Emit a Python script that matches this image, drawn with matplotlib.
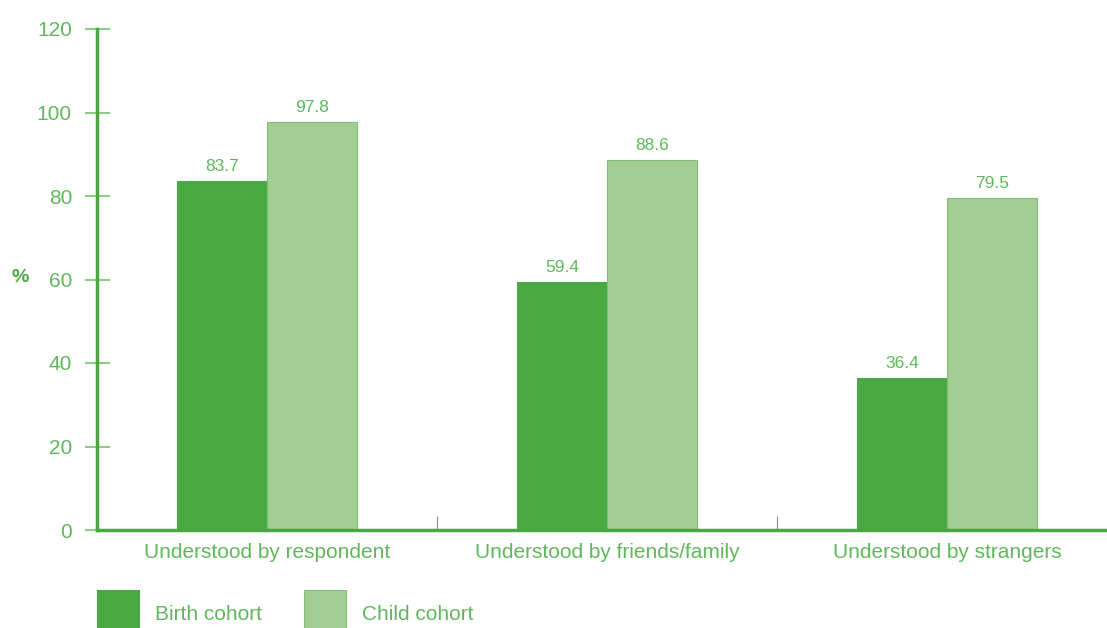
import matplotlib.pyplot as plt
from matplotlib.patches import Rectangle
import numpy as np

plt.rcParams["font.family"] = ["Liberation Sans", "DejaVu Sans"]

categories = ["Understood by respondent", "Understood by friends/family", "Understood by strangers"]
birth = [83.7, 59.4, 36.4]
child = [97.8, 88.6, 79.5]
series_names = ["Birth cohort", "Child cohort"]

dark = "#49a942"
light = "#a3cd94"
light_edge = "#7dc272"
text_green = "#5fb85a"
axis_green = "#4aa843"
tick_green = "#8fcc85"

fig = plt.figure(figsize=(11.07, 6.28), dpi=100)
ax = fig.add_axes([97 / 1107, 98 / 628, 1020 / 1107, 501 / 628])

x = np.arange(len(categories))
w = 0.265
b1 = ax.bar(x - w / 2, birth, width=w, color=dark, edgecolor=dark, linewidth=0.8)
b2 = ax.bar(x + w / 2, child, width=w, color=light, edgecolor=light_edge, linewidth=0.8)

for bars, vals in ((b1, birth), (b2, child)):
    for r, v in zip(bars, vals):
        ax.annotate(f"{v:.1f}", (r.get_x() + r.get_width() / 2, v), xytext=(0, 5),
                    textcoords="offset points", ha="center", va="bottom",
                    fontsize=12.5, color=text_green)

ax.set_xlim(-0.5, 2.5)
ax.set_ylim(0, 120)
ax.set_yticks(range(0, 121, 20))
ax.tick_params(axis="y", direction="inout", length=18, width=1.5, color=tick_green,
               labelsize=15, labelcolor=text_green, pad=9)
ax.set_xticks(x)
ax.set_xticklabels(categories)
ax.tick_params(axis="x", length=0, labelsize=15, labelcolor=text_green, pad=9)
ax.set_xticks([0.5, 1.5], minor=True)
ax.tick_params(axis="x", which="minor", direction="in", length=10, width=0.8, color="#888888")

for s in ("top", "right"):
    ax.spines[s].set_visible(False)
ax.spines["left"].set_color(axis_green)
ax.spines["left"].set_linewidth(2.5)
ax.spines["bottom"].set_color(axis_green)
ax.spines["bottom"].set_linewidth(2.5)

fig.text(12 / 1107, 1 - 277 / 628, "%", fontsize=14, color=axis_green,
         fontweight="bold", va="center", ha="left")

# legend
for xpix, col, ec, name in ((97, dark, dark, series_names[0]),
                            (304, light, light_edge, series_names[1])):
    fig.add_artist(Rectangle((xpix / 1107, -0.02), 42 / 1107, (628 - 590) / 628 + 0.02,
                             transform=fig.transFigure, facecolor=col, edgecolor=ec,
                             linewidth=0.8))
    fig.text((xpix + 58) / 1107, 1 - 614 / 628, name, fontsize=15, color=text_green,
             va="center", ha="left")

fig.savefig("out.png", dpi=100)
